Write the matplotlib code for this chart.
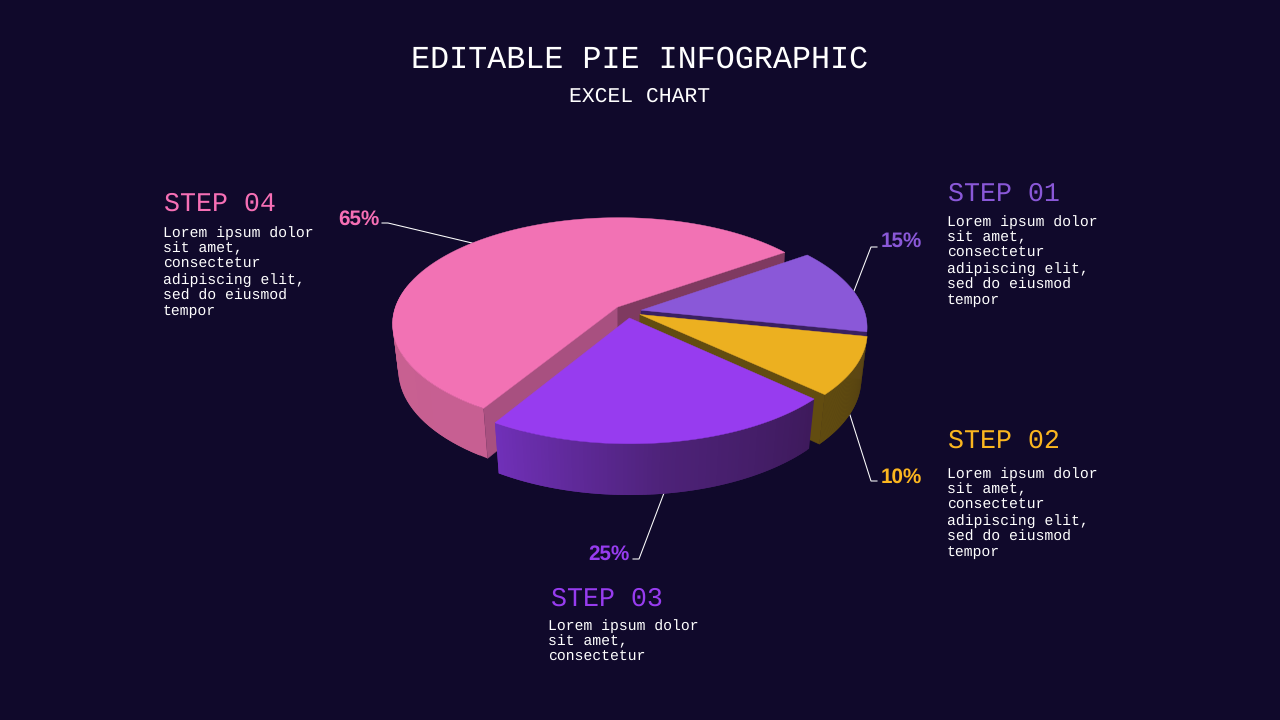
import numpy as np
import matplotlib
matplotlib.use('Agg')
import matplotlib.pyplot as plt
from matplotlib.collections import PolyCollection
from matplotlib.colors import LinearSegmentedColormap

plt.rcParams['text.hinting'] = 'none'
plt.rcParams['text.hinting_factor'] = 8
plt.rcParams['text.kerning_factor'] = 6

# chart values, drawn clockwise on screen starting from STEP 01
steps = ['STEP 01', 'STEP 02', 'STEP 03', 'STEP 04']
values = [15, 10, 25, 65]
top_colors = ['#8a58d8', '#ecb020', '#973cef', '#f272b4']
label_colors = ['#8a58d8', '#fbb61f', '#973cef', '#f66fb5']
wall_colors = [['#2f1d50', '#2f1d50'], ['#5f4a10', '#5f4a10'],
               ['#3e1a5c', '#4d2278', '#7030b8'], ['#c75f92', '#c9618f', '#d870a6']]
# radial faces seen through the cuts: (start side, end side)
face_colors = [(None, '#3a2060'), (None, '#624c10'), (None, None), ('#a85080', '#7f3a60')]

long_body = ['Lorem ipsum dolor', 'sit amet,', 'consectetur', 'adipiscing elit,', 'sed do eiusmod', 'tempor']
short_body = ['Lorem ipsum dolor', 'sit amet,', 'consectetur']
bodies = [long_body, long_body, short_body, long_body]

BG = '#10092b'
START = -35.3  # degrees, angle of first cut on the disc
EXPLODE = 0.062
CX, CY, R, RY, K, DEPTH, K_Z = 627.5, 311.5, 223.5, 104.4, 0.153, 47.5, 0.025


def project(u, v, z):
    w = 1 - K * v + K_Z * z
    return CX + R * u / w, CY + (RY * v + DEPTH * z) / w


def rim(a0, a1, off, z, n=90):
    t = np.radians(np.linspace(a0, a1, n))
    return project(off[0] + np.cos(t), off[1] + np.sin(t), z)


def draw_face(ax, a, off, color):
    t = np.radians(a)
    xs, ys = [], []
    for u, v, z in [(0, 0, 0), (np.cos(t), np.sin(t), 0), (np.cos(t), np.sin(t), 1), (0, 0, 1)]:
        x, y = project(off[0] + u, off[1] + v, z)
        xs.append(x)
        ys.append(y)
    ax.fill(xs, ys, color=color, lw=0.3, zorder=3)


def draw_slice(ax, a0, a1, top, walls, faces):
    mid = np.radians((a0 + a1) / 2)
    off = (EXPLODE * np.cos(mid), EXPLODE * np.sin(mid))

    # outer wall as thin overlapping strips so the shading runs along the rim
    cmap = LinearSegmentedColormap.from_list('w', walls)
    tx, ty = rim(a0, a1, off, 0)
    bx, by = rim(a0, a1, off, 1)
    ang = np.radians(np.linspace(a0, a1, 90))
    quads, cols = [], []
    for i in range(89):
        if np.sin(ang[i]) < -0.2:
            continue
        j = min(i + 2, 89)
        quads.append([(tx[i], ty[i]), (tx[j], ty[j]), (bx[j], by[j]), (bx[i], by[i])])
        cols.append(cmap(i / 88))
    if quads:
        ax.add_collection(PolyCollection(quads, facecolors=cols, edgecolors='none', linewidths=0, zorder=3))

    if faces[1]:
        draw_face(ax, a1, off, faces[1])
    if faces[0]:
        draw_face(ax, a0, off, faces[0])

    ax_, ay_ = project(off[0], off[1], 0)
    ax.fill(np.r_[ax_, tx], np.r_[ay_, ty], color=top, lw=0.3, zorder=3)


fig = plt.figure(figsize=(12.8, 7.2), dpi=100, facecolor=BG)
ax = fig.add_axes([0, 0, 1, 1])
ax.set_xlim(0, 1280)
ax.set_ylim(720, 0)
ax.axis('off')

# leader lines go under the pie
leaders = [([877, 871, 854], [247, 247, 291]), ([877, 871, 850], [481, 481, 415]),
           ([633, 639, 664], [559, 559, 493]), ([382, 388, 472], [223, 223, 243])]
for lx, ly in leaders:
    ax.plot(lx, ly, color='white', lw=0.75, zorder=1)

shares = np.array(values) / sum(values) * 360
a = START
order = []
for i in range(4):
    order.append((i, a, a + shares[i]))
    a += shares[i]
# back slice first
for i, a0, a1 in [order[3], order[0], order[1], order[2]]:
    draw_slice(ax, a0, a1, top_colors[i], wall_colors[i], face_colors[i])

MONO = 'Liberation Mono'
ax.text(640, 68, 'EDITABLE PIE INFOGRAPHIC', color='white', family=MONO, fontsize=22.9, ha='center', va='baseline')
ax.text(640, 102, 'EXCEL CHART', color='white', family=MONO, fontsize=15.4, ha='center', va='baseline')

head_pos = [(948, 201), (948, 448), (551, 606), (164, 211)]
body_pos = [(947, 225.4), (947, 477.4), (548, 629.4), (163, 236.4)]
pct_pos = [(881, 247), (881, 483), (588, 560), (338, 225)]
for i in range(4):
    ax.text(head_pos[i][0], head_pos[i][1], steps[i], color=label_colors[i], family=MONO, fontsize=19.2, va='baseline')
    for j, line in enumerate(bodies[i]):
        ax.text(body_pos[i][0], body_pos[i][1] + j * 15.8, line, color='white', family=MONO, fontsize=10.65, va='baseline')
    ax.text(pct_pos[i][0], pct_pos[i][1], str(values[i]) + '%', color=label_colors[i], family='Liberation Sans',
            fontweight='bold', fontsize=14.9, va='baseline')

fig.savefig('out.png', dpi=100, facecolor=BG)
